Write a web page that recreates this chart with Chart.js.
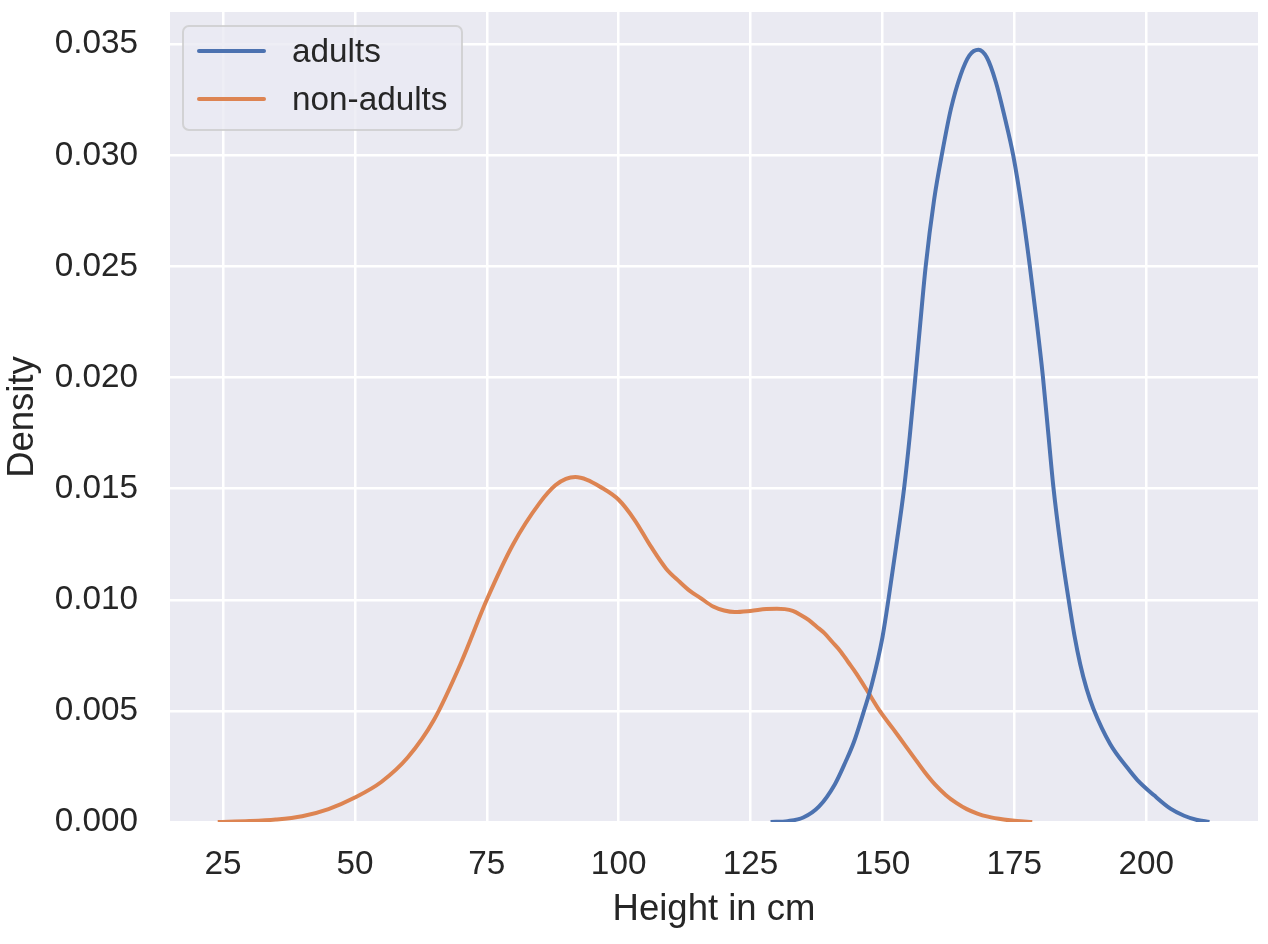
<!DOCTYPE html>
<html>
<head>
<meta charset="utf-8">
<title>Height density</title>
<script src="https://cdn.jsdelivr.net/npm/chart.js@4.4.0/dist/chart.umd.min.js"></script>
<style>
  html, body { margin: 0; padding: 0; background: #ffffff; }
  #wrap { width: 1268px; height: 944px; }
</style>
</head>
<body>
<div id="wrap"><canvas id="kdeChart" width="1268" height="944"></canvas></div>
<script>
// KDE curves (height in cm -> density)
const adultsX = [128.8, 132, 135, 138, 141, 143, 144.6, 146.5, 148, 150, 151.2, 152.6, 154.1, 155.2, 156.2,
                 157.2, 158.2, 159.8, 161.4, 163, 164.8, 166.5, 168.2, 169.8, 171.5, 173.2, 174.8, 176.4,
                 177.9, 179.2, 180.4, 181.4, 182.4, 183.8, 185.3, 186.4, 187.5, 188.7, 190, 193.2, 196.4,
                 198.3, 201.5, 204.6, 207.2, 209.5, 212];
const adultsY = [0, 0.00004, 0.0002, 0.0007, 0.0017, 0.0027, 0.0036, 0.0050, 0.0062, 0.0083, 0.0101, 0.0124,
                 0.0150, 0.0174, 0.0199, 0.0225, 0.0250, 0.0280, 0.0302, 0.0321, 0.0336, 0.0345, 0.03475,
                 0.0344, 0.0333, 0.0317, 0.0300, 0.0277, 0.0251, 0.0226, 0.0201, 0.0176, 0.0151, 0.0124,
                 0.0100, 0.0084, 0.0071, 0.0060, 0.0051, 0.0035, 0.00245, 0.0019, 0.0012, 0.0006, 0.00028,
                 0.0001, 0];

const nonAdultsX = [24, 30, 35, 40, 45, 50, 55, 60, 65, 70, 75, 80, 85, 88, 90, 91.8, 94, 96.4, 100, 103,
                    106.1, 109, 111.6, 113.5, 115.4, 117.9, 120, 122, 125, 128, 130, 131.5, 133, 134.5, 136,
                    137.5, 139, 140.5, 142, 143.5, 145, 147.4, 149.5, 152, 154, 156, 158, 160, 162, 164, 166,
                    168, 170, 173, 175.5, 178.4];
const nonAdultsY = [0, 0.00004, 0.00011, 0.00026, 0.00058, 0.0011, 0.0018, 0.0029, 0.0046, 0.0071, 0.0100,
                    0.0125, 0.01435, 0.01515, 0.01544, 0.01552, 0.0154, 0.0151, 0.0145, 0.0136, 0.0124,
                    0.0114, 0.0108, 0.0104, 0.0101, 0.0097, 0.00952, 0.00945, 0.0095, 0.00958, 0.0096,
                    0.00958, 0.0095, 0.00932, 0.0091, 0.0088, 0.0085, 0.0081, 0.0077, 0.0072, 0.0067, 0.0058,
                    0.0050, 0.0042, 0.00355, 0.0029, 0.00225, 0.00168, 0.00122, 0.00086, 0.00058, 0.00038,
                    0.00024, 0.00011, 0.00004, 0];

const seriesNames  = ["adults", "non-adults"];
const seriesColors = ["#4C72B0", "#DD8452"];

const xTicks = [25, 50, 75, 100, 125, 150, 175, 200];
const yTicks = [0, 0.005, 0.010, 0.015, 0.020, 0.025, 0.030, 0.035];

const FONT = "'Liberation Sans', Arial, sans-serif";
const TEXT = "#262626";

function toPoints(xs, ys) {
  return xs.map((x, i) => ({ x: x, y: ys[i] }));
}

// grey panel behind the grid, like seaborn's darkgrid
const plotBackground = {
  id: "plotBackground",
  beforeDraw(chart) {
    const { ctx, chartArea: a } = chart;
    ctx.save();
    ctx.fillStyle = "#EAEAF2";
    ctx.fillRect(a.left, a.top, a.right - a.left, a.bottom - a.top);
    ctx.restore();
  }
};

// legend sits inside the axes, top left
const insideLegend = {
  id: "insideLegend",
  afterDraw(chart) {
    const ctx = chart.ctx;
    const a = chart.chartArea;
    const x0 = a.left + 13, y0 = a.top + 14, w = 279, h = 104;
    ctx.save();
    ctx.beginPath();
    ctx.roundRect(x0, y0, w, h, 6);
    ctx.fillStyle = "rgba(234,234,242,0.8)";
    ctx.fill();
    ctx.lineWidth = 2;
    ctx.strokeStyle = "rgba(204,204,204,0.8)";
    ctx.stroke();
    ctx.font = "33.3px " + FONT;
    ctx.textBaseline = "middle";
    ctx.textAlign = "left";
    chart.data.datasets.forEach((ds, i) => {
      const y = y0 + 25 + i * 48;
      ctx.strokeStyle = ds.borderColor;
      ctx.lineWidth = 4;
      ctx.lineCap = "round";
      ctx.beginPath();
      ctx.moveTo(x0 + 16, y);
      ctx.lineTo(x0 + 81, y);
      ctx.stroke();
      ctx.fillStyle = TEXT;
      ctx.fillText(ds.label, x0 + 109, y + 1.5);
    });
    ctx.restore();
  }
};

const ctx = document.getElementById("kdeChart").getContext("2d");
const chart = new Chart(ctx, {
  type: "line",
  data: {
    datasets: [
      {
        label: seriesNames[0],
        data: toPoints(adultsX, adultsY),
        borderColor: seriesColors[0],
        backgroundColor: seriesColors[0],
        borderWidth: 4,
        pointRadius: 0,
        fill: false,
        cubicInterpolationMode: "monotone"
      },
      {
        label: seriesNames[1],
        data: toPoints(nonAdultsX, nonAdultsY),
        borderColor: seriesColors[1],
        backgroundColor: seriesColors[1],
        borderWidth: 4,
        pointRadius: 0,
        fill: false,
        cubicInterpolationMode: "monotone"
      }
    ]
  },
  options: {
    responsive: false,
    devicePixelRatio: 1,
    animation: false,
    layout: { padding: { top: 12, right: 10, left: 0, bottom: 0 } },
    plugins: {
      legend: { display: false },
      tooltip: { enabled: false }
    },
    scales: {
      x: {
        type: "linear",
        min: 14.95,
        max: 221.2,
        afterBuildTicks: s => { s.ticks = xTicks.map(v => ({ value: v })); },
        afterFit: s => { s.height = 122; s.paddingLeft = 0; s.paddingRight = 0; },
        grid: { color: "#FFFFFF", lineWidth: 2.5, drawTicks: false },
        border: { display: false },
        ticks: {
          color: TEXT,
          font: { family: FONT, size: 33.3 },
          padding: 23,
          maxRotation: 0,
          autoSkip: false,
          callback: v => String(v)
        },
        title: {
          display: true,
          text: "Height in cm",
          color: TEXT,
          font: { family: FONT, size: 36.5 },
          padding: { top: 0, bottom: 12 }
        }
      },
      y: {
        type: "linear",
        min: 0,
        max: 0.03645,
        afterBuildTicks: s => { s.ticks = yTicks.map(v => ({ value: v })); },
        afterFit: s => { s.width = 170; s.paddingTop = 0; s.paddingBottom = 0; },
        grid: { color: "#FFFFFF", lineWidth: 2.5, drawTicks: false },
        border: { display: false },
        ticks: {
          color: TEXT,
          font: { family: FONT, size: 33.3 },
          padding: 32,
          autoSkip: false,
          callback: v => v.toFixed(3)
        },
        title: {
          display: true,
          text: "Density",
          color: TEXT,
          font: { family: FONT, size: 36.5 },
          padding: { top: 1.5, bottom: 0 }
        }
      }
    }
  },
  plugins: [plotBackground, insideLegend]
});
</script>
</body>
</html>
